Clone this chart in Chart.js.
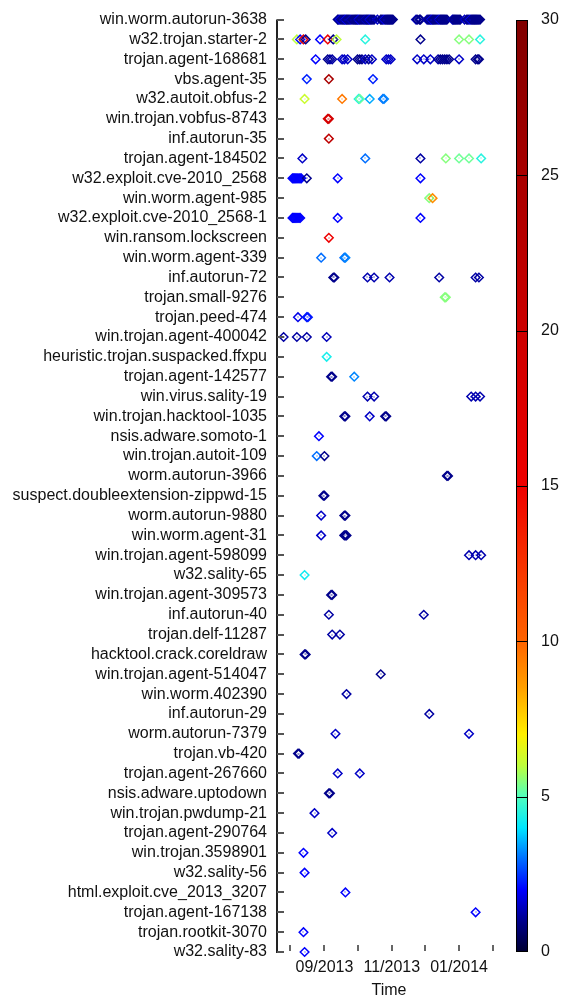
<!DOCTYPE html>
<html>
<head>
<meta charset="utf-8">
<script src="https://cdn.jsdelivr.net/npm/chart.js@4.4.0/dist/chart.umd.min.js"></script>
<style>
html, body { margin: 0; padding: 0; background: #fff; }
</style>
</head>
<body>
<canvas id="chart" width="562" height="999"></canvas>
<script>
// malware families, top to bottom
var families = [
	"win.worm.autorun-3638", "w32.trojan.starter-2", "trojan.agent-168681", "vbs.agent-35",
	"w32.autoit.obfus-2", "win.trojan.vobfus-8743", "inf.autorun-35", "trojan.agent-184502",
	"w32.exploit.cve-2010_2568", "win.worm.agent-985", "w32.exploit.cve-2010_2568-1", "win.ransom.lockscreen",
	"win.worm.agent-339", "inf.autorun-72", "trojan.small-9276", "trojan.peed-474",
	"win.trojan.agent-400042", "heuristic.trojan.suspacked.ffxpu", "trojan.agent-142577", "win.virus.sality-19",
	"win.trojan.hacktool-1035", "nsis.adware.somoto-1", "win.trojan.autoit-109", "worm.autorun-3966",
	"suspect.doubleextension-zippwd-15", "worm.autorun-9880", "win.worm.agent-31", "win.trojan.agent-598099",
	"w32.sality-65", "win.trojan.agent-309573", "inf.autorun-40", "trojan.delf-11287",
	"hacktool.crack.coreldraw", "win.trojan.agent-514047", "win.worm.402390", "inf.autorun-29",
	"worm.autorun-7379", "trojan.vb-420", "trojan.agent-267660", "nsis.adware.uptodown",
	"win.trojan.pwdump-21", "trojan.agent-290764", "win.trojan.3598901", "w32.sality-56",
	"html.exploit.cve_2013_3207", "trojan.agent-167138", "trojan.rootkit-3070", "w32.sality-83"
];

// sighting dates per family (same order as families)
var rowDates = [
	["2013-09-13","2013-09-14","2013-09-15","2013-09-16","2013-09-17","2013-09-18","2013-09-19","2013-09-20","2013-09-21","2013-09-22","2013-09-23","2013-09-24","2013-09-25","2013-09-26","2013-09-27","2013-09-28","2013-09-29","2013-09-30",
	 "2013-10-01","2013-10-02","2013-10-03","2013-10-04","2013-10-05","2013-10-06","2013-10-07","2013-10-08","2013-10-09","2013-10-10","2013-10-11","2013-10-12","2013-10-13","2013-10-14","2013-10-15","2013-10-16",
	 "2013-10-19",
	 "2013-10-22","2013-10-23","2013-10-24","2013-10-25","2013-10-26","2013-10-27","2013-10-28","2013-10-29","2013-10-30","2013-10-31",
	 "2013-11-01","2013-11-02",
	 "2013-11-23","2013-11-24","2013-11-26","2013-11-27",
	 "2013-12-03","2013-12-04","2013-12-05","2013-12-06","2013-12-07","2013-12-08","2013-12-09","2013-12-10","2013-12-11","2013-12-12","2013-12-13","2013-12-14","2013-12-15","2013-12-16","2013-12-17","2013-12-18","2013-12-19","2013-12-20","2013-12-21",
	 "2013-12-26","2013-12-27","2013-12-28","2013-12-29","2013-12-30","2013-12-31",
	 "2014-01-01","2014-01-02",
	 "2014-01-06","2014-01-08","2014-01-09","2014-01-10","2014-01-11","2014-01-12","2014-01-13","2014-01-14","2014-01-15","2014-01-16","2014-01-17","2014-01-18","2014-01-19","2014-01-20"],
	["2013-08-07","2013-08-10","2013-08-13","2013-08-15","2013-08-28","2013-09-04","2013-09-09","2013-09-12","2013-10-08","2013-11-27","2014-01-01","2014-01-10","2014-01-20"],
	["2013-08-24","2013-09-04","2013-09-06","2013-09-08","2013-09-17","2013-09-19","2013-09-22","2013-10-01","2013-10-03","2013-10-05","2013-10-08","2013-10-11","2013-10-14",
	 "2013-10-27","2013-10-29","2013-10-31","2013-11-24","2013-11-30","2013-12-06","2013-12-13","2013-12-15","2013-12-17","2013-12-19","2013-12-21","2013-12-23",
	 "2014-01-01","2014-01-16","2014-01-18","2014-01-19"],
	["2013-08-16","2013-09-05","2013-10-15"],
	["2013-08-14","2013-09-17","2013-10-02","2013-10-03","2013-10-12","2013-10-24","2013-10-25"],
	["2013-09-04","2013-09-05"],
	["2013-09-05"],
	["2013-08-12","2013-10-08","2013-11-27","2013-12-20","2014-01-01","2014-01-10","2014-01-21"],
	["2013-08-03","2013-08-04","2013-08-05","2013-08-06","2013-08-07","2013-08-08","2013-08-09","2013-08-10","2013-08-11","2013-08-16","2013-09-13","2013-11-27"],
	["2013-12-05","2013-12-08"],
	["2013-08-03","2013-08-04","2013-08-05","2013-08-06","2013-08-07","2013-08-08","2013-08-09","2013-08-10","2013-09-13","2013-11-27"],
	["2013-09-05"],
	["2013-08-29","2013-09-19","2013-09-20"],
	["2013-09-09","2013-09-10","2013-10-10","2013-10-16","2013-10-30","2013-12-14","2014-01-16","2014-01-19"],
	["2013-12-19","2013-12-20"],
	["2013-08-08","2013-08-16","2013-08-17"],
	["2013-07-26","2013-08-07","2013-08-16","2013-09-03"],
	["2013-09-03"],
	["2013-09-07","2013-09-08","2013-09-28"],
	["2013-10-10","2013-10-16","2014-01-12","2014-01-16","2014-01-20"],
	["2013-09-19","2013-09-20","2013-10-12","2013-10-26","2013-10-27"],
	["2013-08-27"],
	["2013-08-25","2013-09-01"],
	["2013-12-21","2013-12-22"],
	["2013-08-31","2013-09-01"],
	["2013-08-29","2013-09-19","2013-09-20"],
	["2013-08-29","2013-09-19","2013-09-20","2013-09-21"],
	["2014-01-10","2014-01-16","2014-01-21"],
	["2013-08-14"],
	["2013-09-07","2013-09-08"],
	["2013-09-05","2013-11-30"],
	["2013-09-08","2013-09-15"],
	["2013-08-14","2013-08-15"],
	["2013-10-22"],
	["2013-09-21"],
	["2013-12-05"],
	["2013-09-11","2014-01-10"],
	["2013-08-08","2013-08-09"],
	["2013-09-13","2013-10-03"],
	["2013-09-05","2013-09-06"],
	["2013-08-23"],
	["2013-09-08"],
	["2013-08-13"],
	["2013-08-14"],
	["2013-09-20"],
	["2014-01-16"],
	["2013-08-13"],
	["2013-08-14"]
];

// value (colour) of each sighting
var rowCounts = [
	[1,1,2,1,1,1,1,2,1,1,1,1,1.5,1,1,1,1,1, 1,2,1,1,1,1,1,1.5,1,1,1,2,1,1,1,1, 1.5, 1,1,1,2,1,1,1,1,1,1, 1,1,
	 1.5,1,1,1, 1.5,1,1,1,2,1,1,1,1,1,1,2,1,1,1,1,1,1,1, 1.5,1,1,1,1,1, 1,1, 1.5,1,1,1,2,1,1,1,1,1,1,1,1,1],
	[6,2,16,1,2,15,1,6,4.5,1,5.5,5.5,4.5],
	[2,1,1.2,1.2,1.5,1.5,1.5,1,1,1,1.5,1,1.5, 1.5,1.5,1.5,1.5,1.5,1.5,1.2,1,1,1,1,1, 1.5,1,1,1],
	[2.3,25,2.3],
	[6.2,9.5,4.3,5.2,3.5,3,3.2],
	[18,19],
	[22],
	[1.5,3,1.2,5.5,5.3,5.3,4.5],
	[2,2,2,2,2,2,2,2,2,1,2,2],
	[5.5,9],
	[2,2,2,2,2,2,2,2,2,2],
	[15],
	[3,3,3.2],
	[1,1,1.3,1.3,1.3,1.2,1.2,1.2],
	[5.5,5.5],
	[1.8,2.2,2.2],
	[1.2,1.2,1.2,1.4],
	[4.3],
	[1,1,3.2],
	[1.3,1.3,1.3,1.3,1.3],
	[1,1,1.5,1,1],
	[2],
	[3,1],
	[1,1],
	[1,1],
	[1.5,1,1],
	[1.5,1,1,1],
	[1.3,1.3,1.3],
	[4.2],
	[1,1],
	[1.2,1.2],
	[1.2,1.2],
	[1,1],
	[1],
	[1.2],
	[1.2],
	[1.5,1.5],
	[1,1],
	[1.5,1.5],
	[1,1],
	[1.5],
	[1.5],
	[2],
	[2],
	[2],
	[2],
	[2],
	[2]
];

var xTickDates = ["2013-08-01","2013-09-01","2013-10-01","2013-11-01","2013-12-01","2014-01-01","2014-02-01"];
var xTickLabels = ["", "09/2013", "", "11/2013", "", "01/2014", ""];
var xRange = ["2013-07-20", "2014-02-08"];
var cbTicks = [0, 5, 10, 15, 20, 25, 30];

// palette
var paletteStops = [0, 1, 2, 3, 4, 5, 6, 7, 8.5, 10, 15, 20, 25, 30];
var paletteRGB = [
	[0,0,48], [0,0,140], [0,0,255], [0,110,255], [0,230,255], [80,255,190], [190,255,60],
	[255,240,0], [255,160,0], [255,100,0], [238,0,0], [204,0,0], [168,0,0], [128,0,0]
];

var FONT = "'Liberation Sans', Arial, Helvetica, sans-serif";

function ts(s) {
	return Date.parse(s + "T00:00:00Z");
}

function cmap(v) {
	if (v <= paletteStops[0]) return "rgb(" + paletteRGB[0].join(",") + ")";
	for (var i = 1; i < paletteStops.length; i++) {
		if (v <= paletteStops[i]) {
			var t = (v - paletteStops[i - 1]) / (paletteStops[i] - paletteStops[i - 1]);
			var a = paletteRGB[i - 1], b = paletteRGB[i];
			return "rgb(" + Math.round(a[0] + (b[0] - a[0]) * t) + "," + Math.round(a[1] + (b[1] - a[1]) * t) + "," + Math.round(a[2] + (b[2] - a[2]) * t) + ")";
		}
	}
	return "rgb(" + paletteRGB[paletteRGB.length - 1].join(",") + ")";
}

var points = [];
var colors = [];
for (var i = 0; i < families.length; i++) {
	for (var j = 0; j < rowDates[i].length; j++) {
		points.push({ x: ts(rowDates[i][j]), y: i });
		colors.push(cmap(rowCounts[i][j]));
	}
}

// axis frame, inside ticks, point centres and the colour box
var decorations = {
	id: "decorations",
	afterDatasetsDraw: function (chart) {
		var ctx = chart.ctx;
		var meta = chart.getDatasetMeta(0);
		ctx.save();
		meta.data.forEach(function (pt, k) {
			ctx.fillStyle = colors[k];
			ctx.fillRect(Math.round(pt.x) - 0.5, Math.round(pt.y) - 0.5, 1, 1);
		});
		ctx.restore();
	},
	afterDraw: function (chart) {
		var ctx = chart.ctx;
		var a = chart.chartArea;
		var sx = chart.scales.x, sy = chart.scales.y;
		ctx.save();

		// y axis line + ticks
		ctx.strokeStyle = "#222";
		ctx.lineWidth = 2;
		ctx.beginPath();
		ctx.moveTo(a.left, a.top);
		ctx.lineTo(a.left, a.bottom + 1);
		ctx.stroke();
		ctx.strokeStyle = "#555";
		for (var i = 0; i < families.length; i++) {
			var y = Math.round(sy.getPixelForValue(i));
			ctx.beginPath();
			ctx.moveTo(a.left, y);
			ctx.lineTo(a.left + 7, y);
			ctx.stroke();
		}

		// x ticks
		ctx.strokeStyle = "#333";
		ctx.lineWidth = 1.5;
		xTickDates.forEach(function (d) {
			var x = Math.round(sx.getPixelForValue(ts(d)));
			ctx.beginPath();
			ctx.moveTo(x, a.bottom - 7);
			ctx.lineTo(x, a.bottom - 1);
			ctx.stroke();
		});

		// colour box
		var cbLeft = 516, cbWidth = 12;
		var top = Math.round(a.top), bot = Math.round(a.bottom);
		var vMax = cbTicks[cbTicks.length - 1];
		for (var yy = top; yy < bot; yy++) {
			ctx.fillStyle = cmap(vMax * (bot - yy - 0.5) / (bot - top));
			ctx.fillRect(cbLeft, yy, cbWidth, 1);
		}
		ctx.strokeStyle = "#000";
		ctx.lineWidth = 1;
		ctx.strokeRect(cbLeft + 0.5, top + 0.5, cbWidth - 1, bot - top - 1);
		ctx.fillStyle = "#111";
		ctx.font = "16px " + FONT;
		ctx.textAlign = "left";
		ctx.textBaseline = "middle";
		cbTicks.forEach(function (v) {
			var y = bot - (bot - top) * v / vMax;
			if (v > 0 && v < vMax) {
				ctx.beginPath();
				ctx.moveTo(cbLeft, Math.round(y) + 0.5);
				ctx.lineTo(cbLeft + cbWidth, Math.round(y) + 0.5);
				ctx.stroke();
			}
			ctx.fillText(String(v), cbLeft + 25, y);
		});
		ctx.restore();
	}
};

var ctx = document.getElementById("chart").getContext("2d");
new Chart(ctx, {
	type: "scatter",
	data: {
		datasets: [
			{
				label: "sightings",
				data: points,
				pointStyle: "rectRot",
				pointRadius: 4.3,
				pointBorderWidth: 1.5,
				pointBorderColor: colors,
				pointBackgroundColor: "rgba(0,0,0,0)",
				clip: false
			}
		]
	},
	options: {
		responsive: false,
		animation: false,
		devicePixelRatio: 1,
		events: [],
		layout: {
			padding: { top: 19, right: 61, bottom: 0, left: 0 }
		},
		plugins: {
			legend: { display: false },
			tooltip: { enabled: false }
		},
		scales: {
			x: {
				type: "linear",
				min: ts(xRange[0]),
				max: ts(xRange[1]),
				afterBuildTicks: function (scale) {
					scale.ticks = xTickDates.map(function (d) { return { value: ts(d) }; });
				},
				afterFit: function (scale) {
					scale.height = 47;
				},
				ticks: {
					autoSkip: false,
					maxRotation: 0,
					padding: 6,
					color: "#111",
					font: { family: FONT, size: 16 },
					callback: function (v) {
						var k = xTickDates.map(ts).indexOf(v);
						return k < 0 ? "" : xTickLabels[k];
					}
				},
				grid: { display: false, drawTicks: false },
				border: { display: false },
				title: {
					display: true,
					text: "Time",
					color: "#111",
					font: { family: FONT, size: 16, lineHeight: 1.0 },
					padding: 0
				}
			},
			y: {
				type: "linear",
				reverse: true,
				min: 0,
				max: families.length - 1,
				afterBuildTicks: function (scale) {
					scale.ticks = families.map(function (f, i) { return { value: i }; });
				},
				afterFit: function (scale) {
					scale.width = 277;
				},
				ticks: {
					autoSkip: false,
					padding: 10,
					color: "#111",
					font: { family: FONT, size: 16 },
					callback: function (v) {
						return families[v];
					}
				},
				grid: { display: false, drawTicks: false },
				border: { display: false }
			}
		}
	},
	plugins: [decorations]
});
</script>
</body>
</html>
